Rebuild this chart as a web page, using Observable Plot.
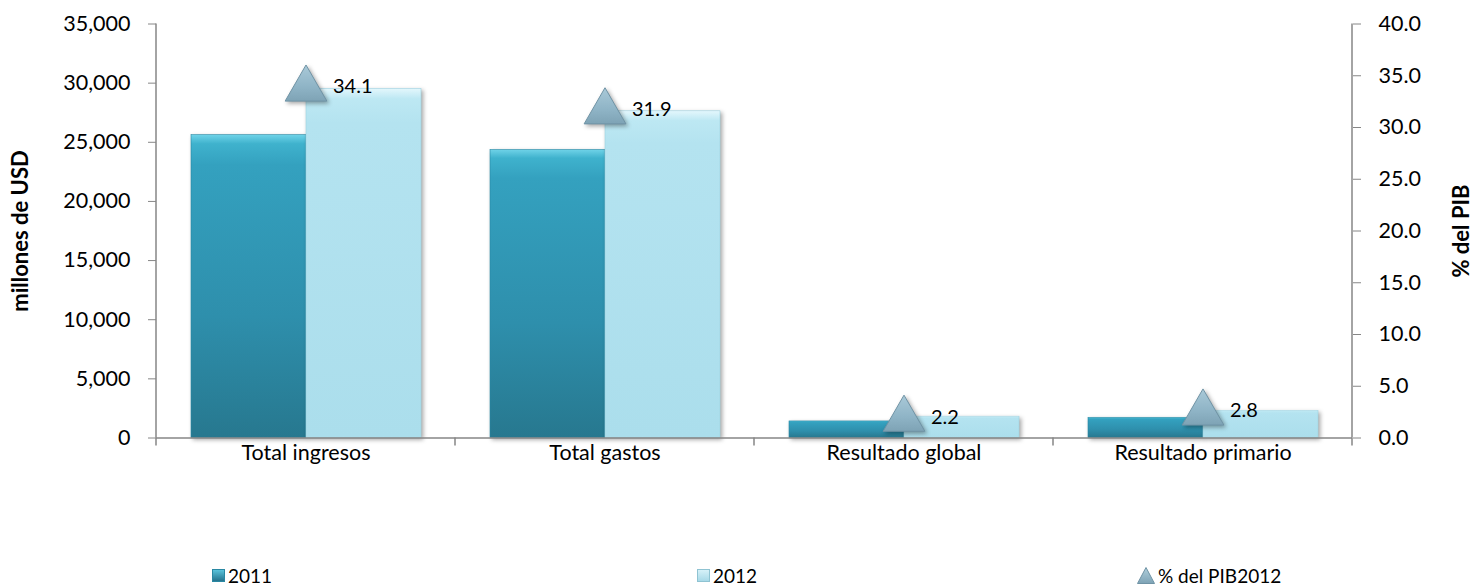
<!DOCTYPE html>
<html>
<head>
<meta charset="utf-8">
<script src="https://cdn.jsdelivr.net/npm/d3@7"></script>
<script src="https://cdn.jsdelivr.net/npm/@observablehq/plot@0.6"></script>
<style>
  html, body { margin: 0; padding: 0; background: #fff; overflow: hidden; }
  #chart { position: relative; width: 1474px; height: 586px; font-family: Lato, "Open Sans", sans-serif; }
  #chart svg { display: block; }
  g[aria-label="bar"] rect { filter: drop-shadow(2px 2px 2px rgba(0,0,0,0.35)); }
  g[aria-label="dot"] path { filter: drop-shadow(2px 2px 2px rgba(0,0,0,0.35)); }
  g[aria-label="y-axis label"] text { font-weight: bold; font-size: 22px; }
  #legend { position: relative; height: 21px; font-size: 19px; color: #000; }
  #legend .item { position: absolute; top: 0; display: flex; align-items: center; gap: 3px; line-height: 21px; }
</style>
</head>
<body>
<div id="chart"></div>
<script>
// ---- data ----
const categories = ["Total ingresos", "Total gastos", "Resultado global", "Resultado primario"];
const years = ["2011", "2012"];
const values2011 = [25600, 24350, 1400, 1710];
const values2012 = [29520, 27620, 1800, 2300];
const pct2012 = [34.1, 31.9, 2.2, 2.8];
const leftTicks = [0, 5000, 10000, 15000, 20000, 25000, 30000, 35000];
const rightTicks = [0, 5, 10, 15, 20, 25, 30, 35, 40];
const pctMax = 40, usdMax = 35000;

const toUsd = p => p * usdMax / pctMax; // secondary axis mapped onto the primary scale

const bars = [];
categories.forEach((c, i) => {
  bars.push({cat: c, year: "2011", value: values2011[i]});
  bars.push({cat: c, year: "2012", value: values2012[i]});
});
const pts = categories.map((c, i) => ({cat: c, pct: pct2012[i]}));

const axisColor = "#868686";
const FS = 21.5;

const plot = Plot.plot({
  width: 1474,
  height: 565,
  marginLeft: 156,
  marginRight: 122,
  marginTop: 23.5,
  marginBottom: 127.5,
  style: {fontFamily: "Lato, 'Open Sans', sans-serif", fontSize: FS + "px", color: "#000", background: "transparent", overflow: "visible"},
  fx: {domain: categories, padding: 0, label: null},
  x: {domain: years, paddingInner: 0, paddingOuter: 0.294, axis: null},
  y: {domain: [0, usdMax], axis: null},
  marks: [
    Plot.barY(bars, {fx: "cat", x: "year", y: "value",
      fill: d => d.year === "2011" ? "url(#g2011)" : "url(#g2012)",
      stroke: d => d.year === "2011" ? "#2a88a3" : "#9fd3e2", strokeWidth: 0.6}),
    Plot.ruleY([0], {stroke: axisColor, strokeWidth: 1.5}),
    Plot.dot(pts, {fx: "cat", y: d => toUsd(d.pct), symbol: "triangle", r: 15.5, dy: 4,
      fill: "url(#gtri)", stroke: "#6f93a5", strokeWidth: 1}),
    Plot.text(pts, {fx: "cat", y: d => toUsd(d.pct), text: d => d.pct.toFixed(1),
      textAnchor: "start", dx: 27, dy: 2, fontSize: 20, fill: "#000"}),
    Plot.axisY({anchor: "left", ticks: leftTicks, tickFormat: d3.format(","), tickSize: 8, tickPadding: 18,
      stroke: axisColor, fill: "#000", fontSize: FS, label: "millones de USD", labelAnchor: "center", labelOffset: 144, labelArrow: "none"}),
    Plot.axisY({anchor: "right", ticks: rightTicks.map(toUsd), tickFormat: v => (v * pctMax / usdMax).toFixed(1),
      tickSize: 8, tickPadding: 18, stroke: axisColor, fill: "#000", fontSize: FS, label: "% del PIB", labelAnchor: "center", labelOffset: 116, labelArrow: "none"}),
    Plot.axisFx({anchor: "bottom", tickSize: 0, tickPadding: 7, fontSize: FS, fill: "#000", label: null})
  ]
});

// gradients for the bevelled Excel look
const svg = d3.select(plot.tagName === "svg" ? plot : plot.querySelector("svg"));
const defs = svg.insert("defs", ":first-child");
function grad(id, stops) {
  const g = defs.append("linearGradient").attr("id", id).attr("x1", 0).attr("x2", 0).attr("y1", 0).attr("y2", 1);
  stops.forEach(([o, c]) => g.append("stop").attr("offset", o).attr("stop-color", c));
}
grad("g2011", [[0, "#6fd3e8"], [0.03, "#3fb2cd"], [0.1, "#34a1bf"], [0.6, "#2e8fac"], [1, "#27788f"]]);
grad("g2012", [[0, "#e4f7fc"], [0.03, "#bde8f3"], [0.1, "#b4e3f0"], [1, "#abdeec"]]);
grad("gtri", [[0, "#a9c9d8"], [0.6, "#8fb4c6"], [1, "#7ea3b5"]]);

// axis lines and category boundary ticks, from the plot's own scales
const fx = plot.scale("fx"), y = plot.scale("y");
const y0 = y.apply(0), yTop = y.apply(usdMax);
const xL = fx.apply(categories[0]);
const xR = fx.apply(categories[categories.length - 1]) + fx.bandwidth;
const lines = svg.append("g").attr("stroke", axisColor).attr("stroke-width", 1.5);
lines.append("line").attr("x1", xL).attr("x2", xL).attr("y1", yTop).attr("y2", y0);
lines.append("line").attr("x1", xR).attr("x2", xR).attr("y1", yTop).attr("y2", y0);
const edges = categories.map(c => fx.apply(c)).concat([xR]);
edges.forEach(x => lines.append("line").attr("x1", x).attr("x2", x).attr("y1", y0).attr("y2", y0 + 8));

// bold axis titles
svg.selectAll("g[aria-label='y-axis label'] text").attr("font-weight", "bold");

const chart = document.getElementById("chart");
chart.appendChild(plot);

// legend below the plot
const legend = document.createElement("div");
legend.id = "legend";
const items = [
  {label: "2011", x: 212, kind: "rect", fill: "url(#lg2011)"},
  {label: "2012", x: 697, kind: "rect", fill: "url(#lg2012)"},
  {label: "% del PIB2012", x: 1137, kind: "tri"}
];
const swDefs = `<defs>
<linearGradient id="lg2011" x1="0" x2="0" y1="0" y2="1"><stop offset="0" stop-color="#5cc6de"/><stop offset="1" stop-color="#23708a"/></linearGradient>
<linearGradient id="lg2012" x1="0" x2="0" y1="0" y2="1"><stop offset="0" stop-color="#d8f2f9"/><stop offset="1" stop-color="#a5d8e7"/></linearGradient>
<linearGradient id="lgtri" x1="0" x2="0" y1="0" y2="1"><stop offset="0" stop-color="#b0cfdc"/><stop offset="1" stop-color="#7ea3b5"/></linearGradient></defs>`;
items.forEach((it, i) => {
  const d = document.createElement("div");
  d.className = "item";
  d.style.left = it.x + "px";
  const sw = it.kind === "rect"
    ? `<svg width="13" height="13">${i === 0 ? swDefs : ""}<rect x="0.5" y="0.5" width="12" height="12" fill="${it.fill}" stroke="${i === 0 ? '#2a88a3' : '#8fc3d2'}"/></svg>`
    : `<svg width="18" height="17"><path d="M9 0.5 L17.5 16.5 L0.5 16.5 Z" fill="url(#lgtri)" stroke="#6f93a5"/></svg>`;
  d.innerHTML = sw + `<span>${it.label}</span>`;
  legend.appendChild(d);
});
chart.appendChild(legend);
</script>
</body>
</html>
